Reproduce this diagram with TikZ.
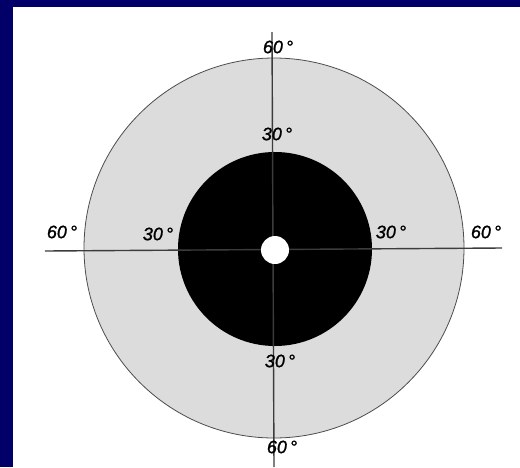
\documentclass[tikz,border=0pt]{standalone}
\usepackage{fontspec}
\setmainfont{Liberation Sans}
\newfontfamily\lblfont[FakeBold=1.2]{Liberation Sans}
\definecolor{navy}{RGB}{2,0,104}
\definecolor{ringgray}{RGB}{220,220,220}
\definecolor{linegray}{RGB}{60,60,60}
\begin{document}
\begin{tikzpicture}[x=1pt,y=-1pt,
  lbl/.style={font=\lblfont\fontsize{18}{18}\selectfont\itshape, text=black, inner sep=0pt},
  axis/.style={draw=linegray, line width=1.4pt}]
\useasboundingbox (0,0) rectangle (520,467);
\fill[navy] (0,0) rectangle (520,467);
\fill[white] (13,7) rectangle (520,467);
\node[circle, draw=black!70, line width=0.8pt, fill=ringgray, minimum size=380pt, inner sep=0pt] (outer) at (274,248) {};
\node[circle, fill=black, minimum size=194pt, inner sep=0pt] (inner) at (275,249) {};
\coordinate (vt) at (272,32);
\coordinate (vb) at (274,467);
\coordinate (hl) at (45,251);
\coordinate (hr) at (502,248);
\draw[axis] (vt) -- (vb);
\draw[axis] (hl) -- (hr);
\node[circle, fill=white, minimum size=28pt, inner sep=0pt] (dot) at (275,250) {};
\node[lbl] (t60) at (278,47) {60\,°};
\node[lbl] (t30) at (277,134) {30\,°};
\node[lbl] (l60) at (62,232) {60\,°};
\node[lbl] (l30) at (158,234) {30\,°};
\node[lbl] (r30) at (391,232) {30\,°};
\node[lbl] (r60) at (486,232) {60\,°};
\node[lbl] (b30) at (280,361) {30\,°};
\node[lbl] (b60) at (282,447) {60\,°};
\end{tikzpicture}
\end{document}
